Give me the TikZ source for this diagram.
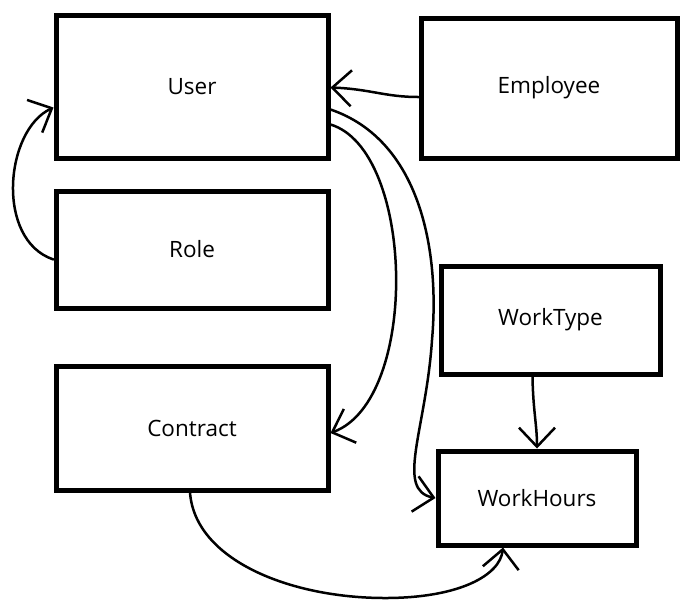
\documentclass[tikz,border=0pt]{standalone}
\usepackage{fontspec}
\setmainfont{Open Sans}
\usetikzlibrary{arrows.meta}

\begin{document}
\begin{tikzpicture}[x=1pt, y=-1pt,
  box/.style={draw, line width=5pt, inner sep=0pt, font=\fontsize{22.5}{26}\selectfont},
  link/.style={line width=2.5pt, line cap=round, line join=round,
    -{Straight Barb[length=19pt,width=36pt,line width=2.5pt]}}]
\useasboundingbox (0,0) rectangle (700,606);

\node[box, minimum width=272pt, minimum height=143pt] (User) at (192,86.5) {User};
\node[box, minimum width=256pt, minimum height=140pt] (Employee) at (549,88) {Employee};
\node[box, minimum width=272pt, minimum height=117pt] (Role) at (192,249.5) {Role};
\node[box, minimum width=219pt, minimum height=108pt] (WorkType) at (550.5,320) {WorkType};
\node[box, minimum width=272pt, minimum height=124pt] (Contract) at (192,428) {Contract};
\node[box, minimum width=198pt, minimum height=94pt] (WorkHours) at (537,498) {WorkHours};

\draw[link] ([yshift=-9pt]Employee.west) .. controls (385,97) and (370,89) .. ([yshift=-1pt]User.east);
\draw[link] ([yshift=-10pt]Role.west) .. controls (-5,240) and (5,130) .. ([yshift=-21pt]User.west);
\draw[link] ([yshift=-38pt]User.east) .. controls (415,150) and (420,400) .. ([yshift=-5pt]Contract.east);
\draw[link] ([yshift=-23pt]User.east) .. controls (420,140) and (440,250) .. (432,340)
  .. controls (426,430) and (395,490) .. (WorkHours.west);
\draw[link] ([xshift=-18pt]WorkType.south) .. controls (533,410) and (537,425) .. (WorkHours.north);
\draw[link] ([xshift=-2pt]Contract.south) .. controls (195,560) and (290,598) .. (385,598)
  .. controls (460,598) and (500,575) .. ([xshift=-34pt]WorkHours.south);
\end{tikzpicture}
\end{document}
